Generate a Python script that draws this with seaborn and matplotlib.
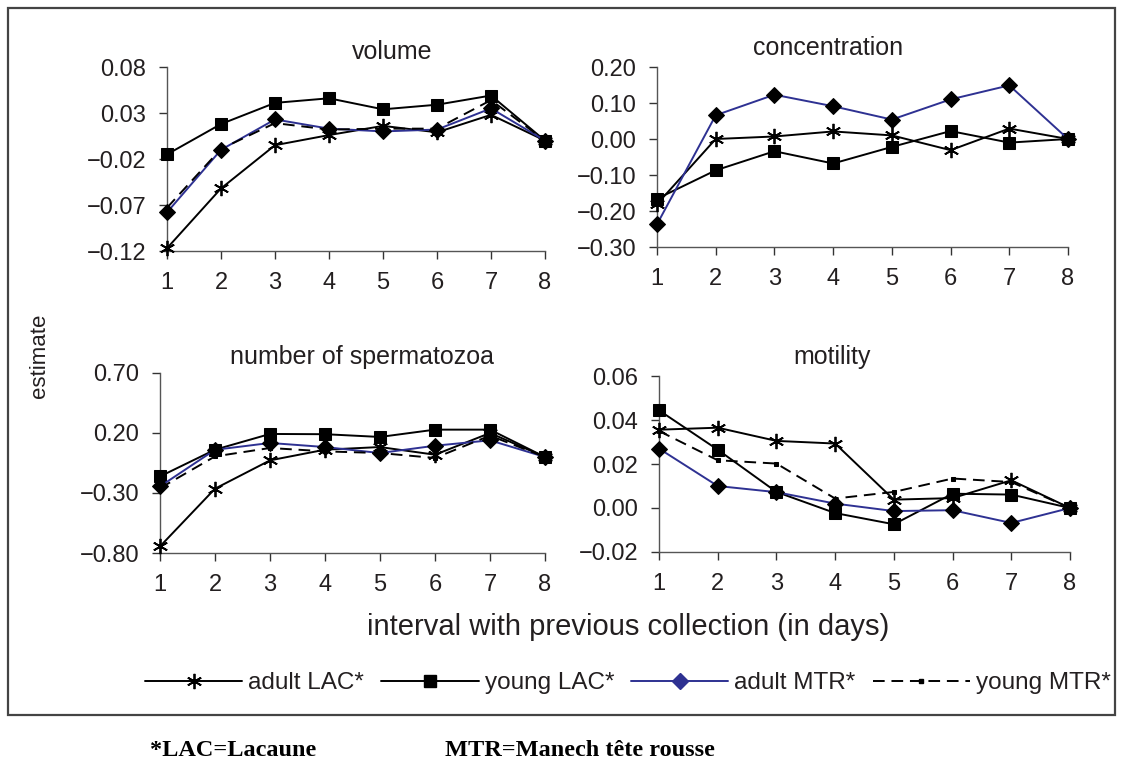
import matplotlib
matplotlib.use("Agg")
import matplotlib.pyplot as plt
from matplotlib.patches import Rectangle
from matplotlib.ticker import FuncFormatter
from matplotlib.lines import Line2D
import seaborn as sns

sns.set_style("ticks")
plt.rcParams['font.family'] = ['Liberation Sans', 'DejaVu Sans']

days = [1, 2, 3, 4, 5, 6, 7, 8]
series_names = ["adult LAC*", "young LAC*", "adult MTR*", "young MTR*"]

# volume
vol_adult_lac = [-0.117, -0.052, -0.005, 0.006, 0.016, 0.009, 0.028, 0.0]
vol_young_lac = [-0.015, 0.018, 0.041, 0.046, 0.034, 0.039, 0.049, 0.0]
vol_adult_mtr = [-0.078, -0.010, 0.023, 0.013, 0.010, 0.012, 0.035, 0.0]
vol_young_mtr = [-0.073, -0.009, 0.019, 0.012, 0.013, 0.013, 0.044, 0.0]

# concentration (no young MTR series)
con_adult_lac = [-0.181, 0.000, 0.007, 0.021, 0.010, -0.031, 0.029, 0.0]
con_young_lac = [-0.166, -0.087, -0.034, -0.068, -0.022, 0.022, -0.010, 0.0]
con_adult_mtr = [-0.237, 0.066, 0.123, 0.091, 0.054, 0.110, 0.149, 0.0]

# number of spermatozoa
num_adult_lac = [-0.745, -0.264, -0.028, 0.061, 0.083, 0.019, 0.200, 0.0]
num_young_lac = [-0.162, 0.061, 0.192, 0.190, 0.167, 0.228, 0.228, 0.0]
num_adult_mtr = [-0.245, 0.060, 0.117, 0.083, 0.033, 0.094, 0.139, 0.0]
num_young_mtr = [-0.260, 0.005, 0.075, 0.047, 0.033, -0.008, 0.178, 0.0]

# motility
mot_adult_lac = [0.0356, 0.0365, 0.0305, 0.0293, 0.0038, 0.0045, 0.0126, 0.0]
mot_young_lac = [0.0444, 0.0265, 0.0073, -0.0023, -0.0074, 0.0065, 0.0061, 0.0]
mot_adult_mtr = [0.0270, 0.0100, 0.0072, 0.0020, -0.0014, -0.0010, -0.0068, 0.0]
mot_young_mtr = [0.0350, 0.0217, 0.0202, 0.0043, 0.0073, 0.0134, 0.0118, 0.0]

titles = ["volume", "concentration", "number of spermatozoa", "motility"]
yticks_vol = [-0.12, -0.07, -0.02, 0.03, 0.08]
yticks_con = [-0.30, -0.20, -0.10, 0.00, 0.10, 0.20]
yticks_num = [-0.80, -0.30, 0.20, 0.70]
yticks_mot = [-0.02, 0.00, 0.02, 0.04, 0.06]

BLUE = "#2E3192"
TXT = "#231f20"
styles = {
    "adult LAC*": dict(color="black", marker=(6, 2, 0), markersize=11, markeredgewidth=1.3,
                       markeredgecolor="black", markerfacecolor="black", linestyle="-", linewidth=1.4),
    "young LAC*": dict(color="black", marker="s", markersize=8, markeredgecolor="black",
                       markerfacecolor="black", linestyle="-", linewidth=1.4),
    "adult MTR*": dict(color=BLUE, marker="D", markersize=8, markeredgecolor="black",
                       markerfacecolor="black", linestyle="-", linewidth=1.4),
    "young MTR*": dict(color="black", marker="s", markersize=3.5, markeredgecolor="black",
                       markerfacecolor="black", linestyle=(0, (6, 3.5)), linewidth=1.4),
}

W, H = 1123, 762
fig = plt.figure(figsize=(W / 100, H / 100), dpi=100)
fig.patch.set_facecolor("white")

def ax_rect(l, r, t, b):
    return [l / W, 1 - b / H, (r - l) / W, (b - t) / H]

panels = [
    (ax_rect(167, 545, 67, 251), yticks_vol, [vol_adult_lac, vol_young_lac, vol_adult_mtr, vol_young_mtr], (392, 52)),
    (ax_rect(657, 1068, 67, 247), yticks_con, [con_adult_lac, con_young_lac, con_adult_mtr, None], (828, 48)),
    (ax_rect(160, 545, 373, 553), yticks_num, [num_adult_lac, num_young_lac, num_adult_mtr, num_young_mtr], (362, 357)),
    (ax_rect(659, 1070, 376, 552), yticks_mot, [mot_adult_lac, mot_young_lac, mot_adult_mtr, mot_young_mtr], (832, 357)),
]

fmt = FuncFormatter(lambda v, p: f"{v:.2f}".replace("-", "\u2212") if abs(v) > 1e-9 else "0.00")

for (rect, yt, data, tpos), title in zip(panels, titles):
    ax = fig.add_axes(rect)
    ax.set_facecolor("white")
    for name, vals in zip(series_names, data):
        if vals is None:
            continue
        st = styles[name]
        sns.lineplot(x=days, y=vals, ax=ax, clip_on=False, zorder=3, **st)
    ax.set_xlim(1, 8)
    ax.set_ylim(yt[0], yt[-1])
    ax.set_xticks(days)
    ax.set_yticks(yt)
    ax.yaxis.set_major_formatter(fmt)
    ax.tick_params(axis="both", labelsize=17, length=6, width=1, color="#333333", labelcolor=TXT)
    ax.tick_params(axis="x", pad=9)
    ax.tick_params(axis="y", pad=9)
    for s in ["top", "right"]:
        ax.spines[s].set_visible(False)
    for s in ["left", "bottom"]:
        ax.spines[s].set_color("#555555")
        ax.spines[s].set_linewidth(1)
    ax.set_xlabel("")
    ax.set_ylabel("")
    fig.text(tpos[0] / W, 1 - tpos[1] / H, title, ha="center", va="center", fontsize=18, color=TXT)

fig.text(40 / W, 1 - 356 / H, "estimate", rotation=90, ha="center", va="center", fontsize=16, color=TXT)
fig.text(628 / W, 1 - 627 / H, "interval with previous collection (in days)", ha="center", va="center",
         fontsize=21, color=TXT)

handles = [Line2D([], [], **styles[n]) for n in series_names]
handles[2] = Line2D([], [], color=BLUE, marker="D", markersize=8, markerfacecolor=BLUE,
                    markeredgecolor=BLUE, linewidth=1.4)
fig.legend(handles, series_names, loc="center", bbox_to_anchor=(628 / W, 1 - 683 / H), ncol=4,
           frameon=False, fontsize=17.5, handlelength=4.0, handletextpad=0.25, columnspacing=0.7,
           borderaxespad=0, labelcolor=TXT)

fig.patches.append(Rectangle((8 / W, 1 - 715 / H), (1115 - 8) / W, (715 - 8) / H, transform=fig.transFigure,
                             fill=False, edgecolor="#444444", linewidth=1.6, zorder=0))

fig.text(150 / W, 1 - 756 / H, "*LAC=Lacaune", ha="left", va="baseline", fontsize=17.5, fontweight="bold",
         family=["Liberation Serif"], color="black")
fig.text(445 / W, 1 - 756 / H, "MTR=Manech tête rousse", ha="left", va="baseline", fontsize=17.5,
         fontweight="bold", family=["Liberation Serif"], color="black")

fig.savefig("out.png", dpi=100, facecolor="white")
